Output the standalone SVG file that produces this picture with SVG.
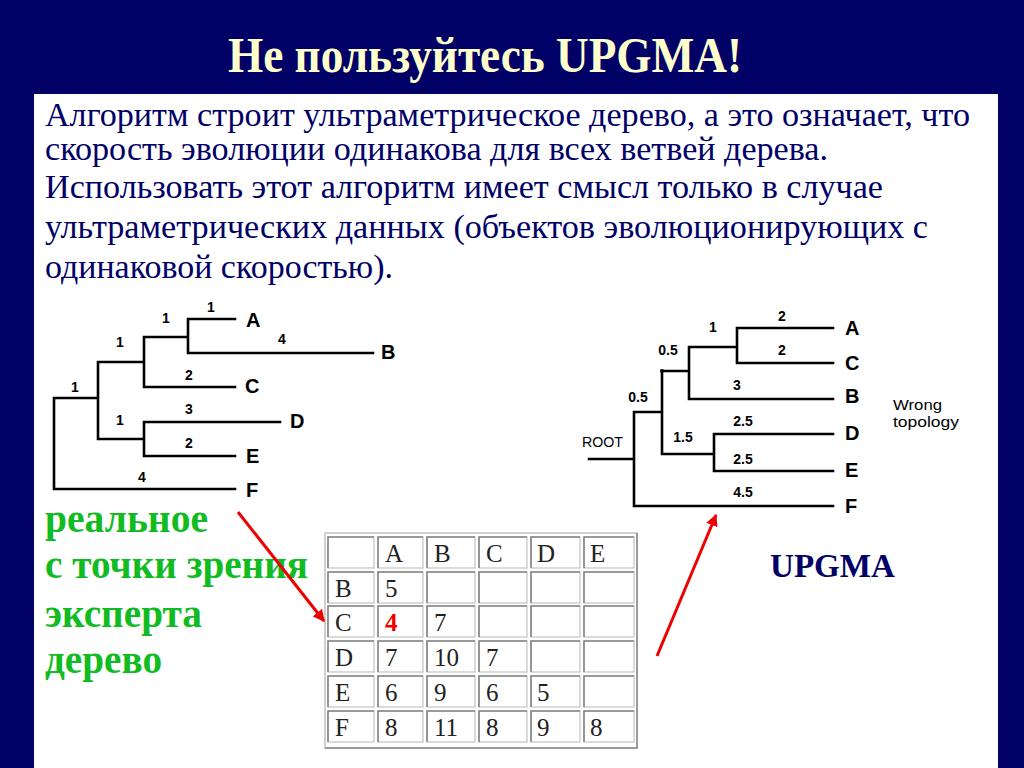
<svg xmlns="http://www.w3.org/2000/svg" width="1024" height="768" viewBox="0 0 1024 768">
<defs>
<style>
.title{font-family:"Liberation Serif",serif;font-weight:bold;font-size:50px;fill:#FFFFCC}
.body{font-family:"Liberation Serif",serif;font-size:33px;fill:#000066}
.green{font-family:"Liberation Serif",serif;font-weight:bold;font-size:39px;fill:#11BB22}
.upgma{font-family:"Liberation Serif",serif;font-weight:bold;font-size:33px;fill:#000066}
.tr{fill:none;stroke:#000;stroke-width:2.6;stroke-linecap:square}
.lab{font-family:"Liberation Sans",Arial,sans-serif;font-weight:bold;font-size:20px;fill:#000}
.num{font-family:"Liberation Sans",Arial,sans-serif;font-weight:bold;font-size:14px;fill:#000;text-anchor:middle}
.sm{font-family:"Liberation Sans",Arial,sans-serif;font-size:14px;fill:#000}
.cell{fill:#fff;stroke:#c4c4c4;stroke-width:1.2}
.cellsh{fill:none;stroke:#858585;stroke-width:1.6}
.ct{font-family:"Liberation Serif",serif;font-size:25px;fill:#222}
.arrow{stroke:#EE0000;stroke-width:3;fill:none}
</style>
<marker id="ah" viewBox="0 0 10 10" refX="9" refY="5" markerWidth="4" markerHeight="4" orient="auto" markerUnits="strokeWidth">
<path d="M0,0 L10,5 L0,10 z" fill="#EE0000"/>
</marker>
</defs>
<rect x="0" y="0" width="1024" height="768" fill="#000066"/>
<rect x="34" y="94" width="964" height="674" fill="#ffffff"/>
<g id="title"><text class="title" x="228" y="72" textLength="514" lengthAdjust="spacingAndGlyphs">Не пользуйтесь UPGMA!</text></g>
<g id="body">
<text class="body" x="45" y="126" textLength="925" lengthAdjust="spacingAndGlyphs">Алгоритм строит ультраметрическое дерево, а это означает, что</text>
<text class="body" x="45" y="160" textLength="783" lengthAdjust="spacingAndGlyphs">скорость эволюции одинакова для всех ветвей дерева.</text>
<text class="body" x="45" y="198" textLength="838" lengthAdjust="spacingAndGlyphs">Использовать этот алгоритм имеет смысл только в случае</text>
<text class="body" x="45" y="238" textLength="883" lengthAdjust="spacingAndGlyphs">ультраметрических данных (объектов эволюционирующих с</text>
<text class="body" x="45" y="278" textLength="348" lengthAdjust="spacingAndGlyphs">одинаковой скоростью).</text>
</g>
<g id="real-label">
<text class="green" x="45" y="532" textLength="163" lengthAdjust="spacingAndGlyphs">реальное</text>
<text class="green" x="45" y="578" textLength="263" lengthAdjust="spacingAndGlyphs">с точки зрения</text>
<text class="green" x="45" y="627" textLength="157" lengthAdjust="spacingAndGlyphs">эксперта</text>
<text class="green" x="45" y="673" textLength="117" lengthAdjust="spacingAndGlyphs">дерево</text>
</g>
<g id="upgma-label"><text class="upgma" x="770" y="577" textLength="125" lengthAdjust="spacingAndGlyphs">UPGMA</text></g>
<g id="left-tree">
<path class="tr" d="M54,398 V489 H235 M54,398 H98 M98,362 V439 M98,362 H144 M144,337 V387 H235 M144,337 H188 M188,319 V353 M188,319 H235 M188,353 H373 M98,439 H144 M144,422 V456 M144,422 H280 M144,456 H235"/>
<text class="lab" x="246" y="327">A</text>
<text class="lab" x="381" y="359">B</text>
<text class="lab" x="245" y="393">C</text>
<text class="lab" x="290" y="428">D</text>
<text class="lab" x="246" y="463">E</text>
<text class="lab" x="246" y="497">F</text>
<text class="num" x="211" y="312">1</text>
<text class="num" x="166" y="323">1</text>
<text class="num" x="120" y="347">1</text>
<text class="num" x="282" y="344">4</text>
<text class="num" x="189" y="380">2</text>
<text class="num" x="75" y="392">1</text>
<text class="num" x="189" y="414">3</text>
<text class="num" x="120" y="425">1</text>
<text class="num" x="189" y="448">2</text>
<text class="num" x="142" y="482">4</text>
</g>
<g id="right-tree">
<path class="tr" d="M589,459 H634 M634,412 V506 H833 M634,412 H662 M662,371 V454 M662,371 H689 M689,347 V399 H833 M689,347 H737 M737,328 V363 M737,328 H833 M737,363 H833 M662,454 H714 M714,434 V471 M714,434 H833 M714,471 H833"/>
<circle cx="662" cy="371" r="2" fill="#000"/>
<text class="sm" x="582" y="447" textLength="41" lengthAdjust="spacingAndGlyphs">ROOT</text>
<text class="lab" x="845" y="335">A</text>
<text class="lab" x="845" y="370">C</text>
<text class="lab" x="845" y="403">B</text>
<text class="lab" x="845" y="440">D</text>
<text class="lab" x="845" y="477">E</text>
<text class="lab" x="845" y="513">F</text>
<text class="num" x="782" y="321">2</text>
<text class="num" x="713" y="332">1</text>
<text class="num" x="782" y="355">2</text>
<text class="num" x="668" y="355">0.5</text>
<text class="num" x="737" y="390">3</text>
<text class="num" x="638" y="402">0.5</text>
<text class="num" x="743" y="426">2.5</text>
<text class="num" x="683" y="442">1.5</text>
<text class="num" x="743" y="464">2.5</text>
<text class="num" x="743" y="497">4.5</text>
<text class="sm" x="893" y="410" textLength="49" lengthAdjust="spacingAndGlyphs">Wrong</text>
<text class="sm" x="893" y="427" textLength="66" lengthAdjust="spacingAndGlyphs">topology</text>
</g>
<g id="distance-table">
<rect x="325" y="533" width="312" height="215" fill="#fff" stroke="#d0d0d0" stroke-width="2"/>
<path d="M637,533 V748 H325" fill="none" stroke="#9a9a9a" stroke-width="2"/>
<g id="cells">
<rect class="cell" x="328" y="537" width="46" height="31"/><rect class="cell" x="378" y="537" width="45" height="31"/><rect class="cell" x="427" y="537" width="48" height="31"/><rect class="cell" x="479" y="537" width="48" height="31"/><rect class="cell" x="531" y="537" width="49" height="31"/><rect class="cell" x="584" y="537" width="50" height="31"/>
<rect class="cell" x="328" y="572" width="46" height="31"/><rect class="cell" x="378" y="572" width="45" height="31"/><rect class="cell" x="427" y="572" width="48" height="31"/><rect class="cell" x="479" y="572" width="48" height="31"/><rect class="cell" x="531" y="572" width="49" height="31"/><rect class="cell" x="584" y="572" width="50" height="31"/>
<rect class="cell" x="328" y="606" width="46" height="31"/><rect class="cell" x="378" y="606" width="45" height="31"/><rect class="cell" x="427" y="606" width="48" height="31"/><rect class="cell" x="479" y="606" width="48" height="31"/><rect class="cell" x="531" y="606" width="49" height="31"/><rect class="cell" x="584" y="606" width="50" height="31"/>
<rect class="cell" x="328" y="641" width="46" height="31"/><rect class="cell" x="378" y="641" width="45" height="31"/><rect class="cell" x="427" y="641" width="48" height="31"/><rect class="cell" x="479" y="641" width="48" height="31"/><rect class="cell" x="531" y="641" width="49" height="31"/><rect class="cell" x="584" y="641" width="50" height="31"/>
<rect class="cell" x="328" y="676" width="46" height="31"/><rect class="cell" x="378" y="676" width="45" height="31"/><rect class="cell" x="427" y="676" width="48" height="31"/><rect class="cell" x="479" y="676" width="48" height="31"/><rect class="cell" x="531" y="676" width="49" height="31"/><rect class="cell" x="584" y="676" width="50" height="31"/>
<rect class="cell" x="328" y="711" width="46" height="31"/><rect class="cell" x="378" y="711" width="45" height="31"/><rect class="cell" x="427" y="711" width="48" height="31"/><rect class="cell" x="479" y="711" width="48" height="31"/><rect class="cell" x="531" y="711" width="49" height="31"/><rect class="cell" x="584" y="711" width="50" height="31"/>
<path class="cellsh" d="M328,568 V537 H374 M378,568 V537 H423 M427,568 V537 H475 M479,568 V537 H527 M531,568 V537 H580 M584,568 V537 H634
M328,603 V572 H374 M378,603 V572 H423 M427,603 V572 H475 M479,603 V572 H527 M531,603 V572 H580 M584,603 V572 H634
M328,637 V606 H374 M378,637 V606 H423 M427,637 V606 H475 M479,637 V606 H527 M531,637 V606 H580 M584,637 V606 H634
M328,672 V641 H374 M378,672 V641 H423 M427,672 V641 H475 M479,672 V641 H527 M531,672 V641 H580 M584,672 V641 H634
M328,707 V676 H374 M378,707 V676 H423 M427,707 V676 H475 M479,707 V676 H527 M531,707 V676 H580 M584,707 V676 H634
M328,742 V711 H374 M378,742 V711 H423 M427,742 V711 H475 M479,742 V711 H527 M531,742 V711 H580 M584,742 V711 H634"/>
</g>
<text class="ct" x="385" y="562">A</text><text class="ct" x="434" y="562">B</text><text class="ct" x="486" y="562">C</text><text class="ct" x="537" y="562">D</text><text class="ct" x="590" y="562">E</text>
<text class="ct" x="335" y="597">B</text><text class="ct" x="385" y="597">5</text>
<text class="ct" x="335" y="631">C</text><text x="385" y="631" font-family="Liberation Serif, serif" font-weight="bold" font-size="25" fill="#EE0000">4</text><text class="ct" x="434" y="631">7</text>
<text class="ct" x="335" y="666">D</text><text class="ct" x="385" y="666">7</text><text class="ct" x="434" y="666">10</text><text class="ct" x="486" y="666">7</text>
<text class="ct" x="335" y="701">E</text><text class="ct" x="385" y="701">6</text><text class="ct" x="434" y="701">9</text><text class="ct" x="486" y="701">6</text><text class="ct" x="537" y="701">5</text>
<text class="ct" x="335" y="736">F</text><text class="ct" x="385" y="736">8</text><text class="ct" x="434" y="736">11</text><text class="ct" x="486" y="736">8</text><text class="ct" x="537" y="736">9</text><text class="ct" x="590" y="736">8</text>
</g>
<g id="connectors">
<line class="arrow" x1="238" y1="512" x2="324" y2="621" marker-end="url(#ah)"/>
<line class="arrow" x1="657" y1="656" x2="716" y2="515" marker-end="url(#ah)"/>
</g>
</svg>
